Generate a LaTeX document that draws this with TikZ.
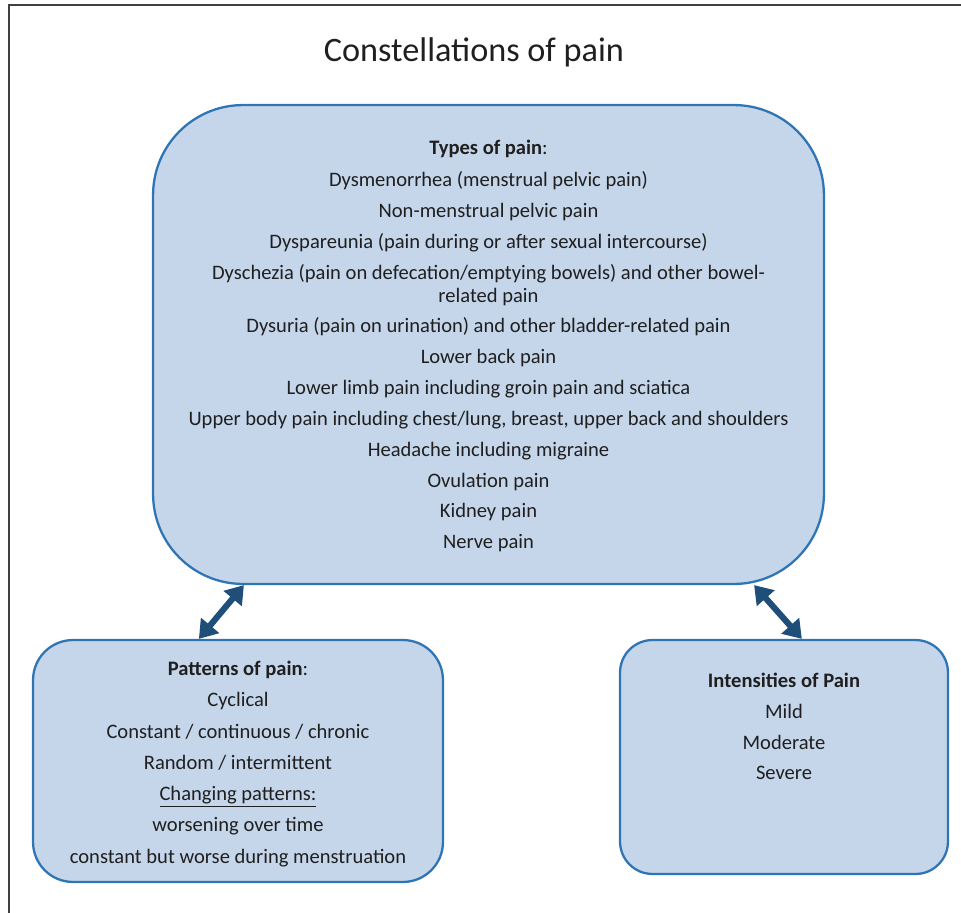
\documentclass[tikz,border=0pt]{standalone}
\usepackage{fontspec}
\setmainfont{Carlito}
\usetikzlibrary{arrows.meta}
\definecolor{panelfill}{HTML}{C5D6EB}
\definecolor{paneledge}{HTML}{2E75B6}
\definecolor{linkblue}{HTML}{1F4E79}
\definecolor{framegray}{HTML}{404040}

\begin{document}
\begin{tikzpicture}[x=0.02cm,y=-0.02cm,
    panel/.style={draw=paneledge,fill=panelfill,line width=1.3pt,inner sep=0pt},
    entries/.style={align=center,inner sep=0pt,text=black!88,font=\fontsize{11.7}{13}\selectfont},
    link/.style={{Triangle[length=10pt,width=13pt]}-{Triangle[length=10pt,width=13pt]},line width=3.5pt,draw=linkblue}]
    \useasboundingbox (0,0) rectangle (961,913);
    % frame and title
    \draw[framegray,line width=1pt] (9,913) -- (9,5) -- (961,5);
    \node[text=black!88,font=\fontsize{19.5}{22}\selectfont] (title) at (474,52) {Constellations of pain};
    % the three panels
    \node[panel,minimum width=13.42cm,minimum height=9.58cm,rounded corners=1.8cm] (types) at (488.5,344.5) {};
    \node[panel,minimum width=8.2cm,minimum height=4.84cm,rounded corners=0.8cm] (patterns) at (238,761) {};
    \node[panel,minimum width=6.56cm,minimum height=4.68cm,rounded corners=0.65cm] (intensities) at (784,757) {};
    \node[entries] (typestext) at (488.5,346) {%
      \textbf{Types of pain}:\\[5.5pt]
      Dysmenorrhea (menstrual pelvic pain)\\[4.55pt]
      Non-menstrual pelvic pain\\[4.55pt]
      Dyspareunia (pain during or after sexual intercourse)\\[4.55pt]
      Dyschezia (pain on defecation/emptying bowels) and other bowel-\\
      related pain\\[4.55pt]
      Dysuria (pain on urination) and other bladder-related pain\\[4.55pt]
      Lower back pain\\[4.55pt]
      Lower limb pain including groin pain and sciatica\\[4.55pt]
      Upper body pain including chest/lung, breast, upper back and shoulders\\[4.55pt]
      Headache including migraine\\[4.55pt]
      Ovulation pain\\[4.55pt]
      Kidney pain\\[4.55pt]
      Nerve pain};
    \node[entries] (patternstext) at (238,764) {%
      \textbf{Patterns of pain}:\\[4.8pt]
      Cyclical\\[4.8pt]
      Constant / continuous / chronic\\[4.8pt]
      Random / intermittent\\[4.8pt]
      \underline{Changing patterns:}\\[4.8pt]
      worsening over time\\[4.8pt]
      constant but worse during menstruation};
    \node[entries] (intensitiestext) at (784,726.5) {%
      \textbf{Intensities of Pain}\\[4.55pt]
      Mild\\[4.55pt]
      Moderate\\[4.55pt]
      Severe};
    % connectors
    \draw[link] ([xshift=1.84cm]types.south west) -- ([xshift=3.34cm]patterns.north west);
    \draw[link] ([xshift=-1.42cm]types.south east) -- ([xshift=3.66cm]intensities.north west);
\end{tikzpicture}
\end{document}
